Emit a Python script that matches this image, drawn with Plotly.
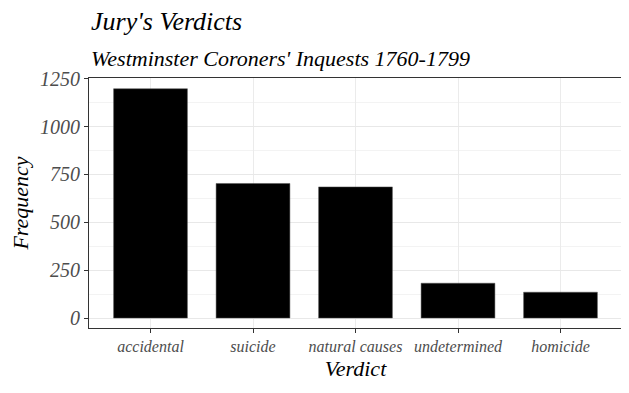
import plotly.graph_objects as go

verdicts = ["accidental", "suicide", "natural causes", "undetermined", "homicide"]
counts = [1198, 703, 685, 182, 135]
y_ticks = [0, 250, 500, 750, 1000, 1250]

FONT = "Liberation Serif"

fig = go.Figure()
fig.add_trace(go.Bar(x=verdicts, y=counts, width=0.72,
                     marker=dict(color="black", line=dict(color="#555555", width=0.5))))

# the page body has an 8px default margin, so the figure is sized to fit the window
fig.update_layout(
    width=621, height=385,
    margin=dict(l=81, r=7, t=70, b=65, autoexpand=False),
    paper_bgcolor="white", plot_bgcolor="white",
    showlegend=False,
    font=dict(family=FONT, style="italic"),
    xaxis=dict(
        automargin=False,
        showgrid=True, gridcolor="#ebebeb", gridwidth=1,
        ticks="outside", ticklen=4, tickcolor="#333333",
        tickfont=dict(family=FONT, style="italic", size=16, color="#4d4d4d"),
        title=dict(text="Verdict", font=dict(family=FONT, style="italic", size=22, color="black"), standoff=6),
        showline=True, linecolor="#333333", mirror=True, linewidth=1,
        range=[-0.6, 4.6],
    ),
    yaxis=dict(
        automargin=False,
        range=[-52, 1254],
        tickvals=y_ticks,
        showgrid=True, gridcolor="#e8e8e8", gridwidth=1,
        minor=dict(dtick=125, tick0=125, showgrid=True, gridcolor="#f3f3f3", gridwidth=0.5),
        ticks="outside", ticklen=4, tickcolor="#333333",
        tickfont=dict(family=FONT, style="italic", size=20, color="#4d4d4d"),
        title=dict(text="Frequency", font=dict(family=FONT, style="italic", size=22, color="black"), standoff=8),
        showline=True, linecolor="#333333", mirror=True, linewidth=1,
        zeroline=False,
    ),
    annotations=[
        dict(text="Jury's Verdicts", xref="paper", yref="paper", x=0, y=1.0, xanchor="left", yanchor="bottom",
             yshift=40, showarrow=False, font=dict(family=FONT, style="italic", size=26, color="black")),
        dict(text="Westminster Coroners' Inquests 1760-1799", xref="paper", yref="paper", x=0, y=1.0,
             xanchor="left", yanchor="bottom", yshift=5, showarrow=False,
             font=dict(family=FONT, style="italic", size=22, color="black")),
    ],
)

fig.write_html("out.html")
